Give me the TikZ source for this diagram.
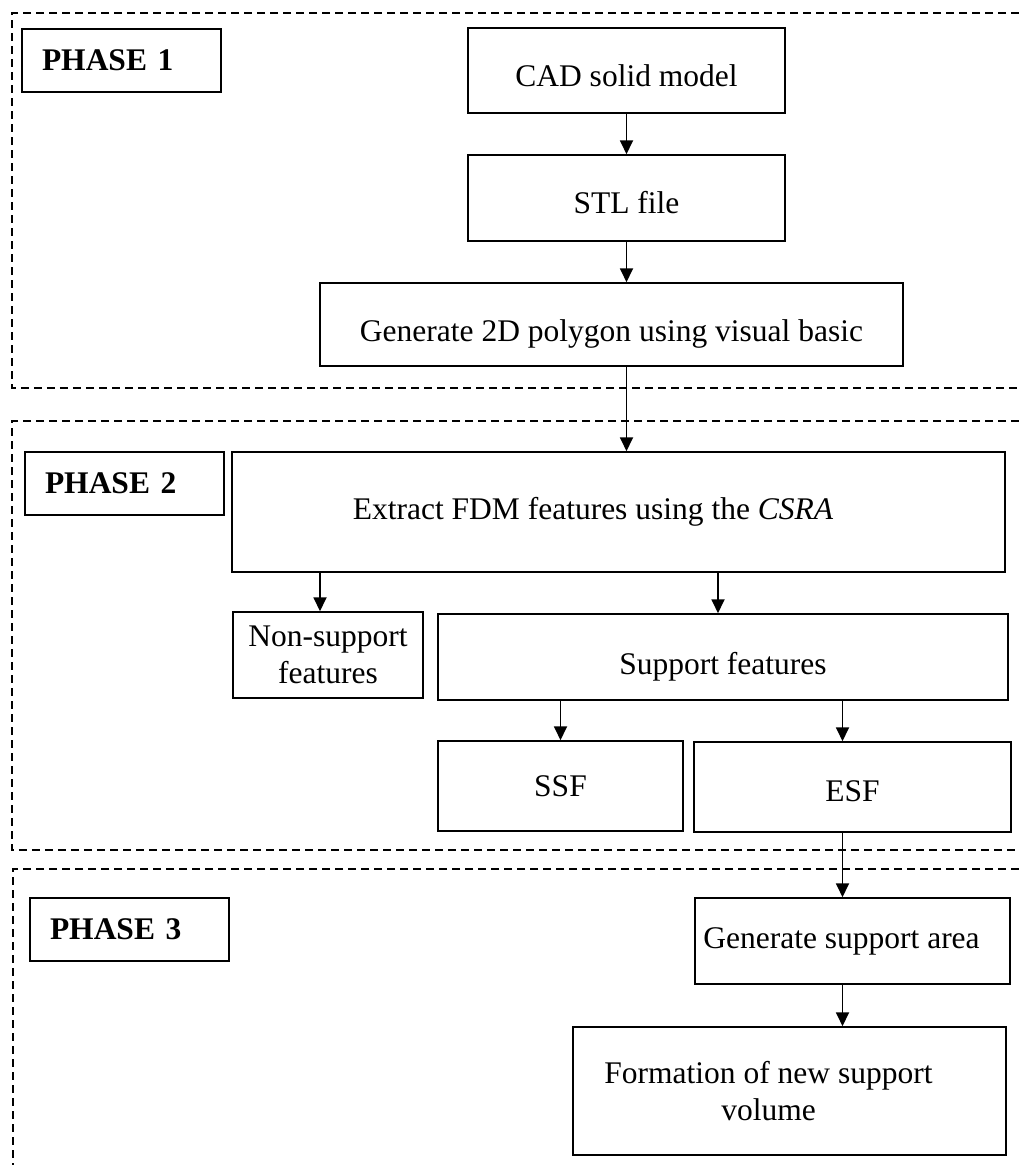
\documentclass[tikz,border=0pt]{standalone}
\usepackage{fontspec}
\setmainfont{Liberation Serif}
\usetikzlibrary{arrows.meta}
\tikzset{
  boite/.style={draw, line width=1.5pt, inner sep=0pt, align=center,
    font=\fontsize{31.5pt}{37pt}\selectfont},
  phase/.style={boite, minimum width=199pt, minimum height=63pt,
    text width=159pt, inner xsep=20pt, align=left,
    font=\fontsize{31.5pt}{37pt}\selectfont\bfseries},
  fleche/.style={line width=1.8pt, -{Triangle[length=14pt,width=13pt]}},
  cadre/.style={dash pattern=on 8pt off 5pt, line width=1.6pt}
}
\newcommand{\bas}[1]{\rule{0pt}{#1}}
\begin{document}
\begin{tikzpicture}[x=1pt, y=-1pt]
    \useasboundingbox (0,0) rectangle (1019,1165);
    %cadres
    \draw[cadre] (1019,13) -- (12,13) -- (12,388) -- (1019,388);
    \draw[cadre] (1019,421) -- (12,421) -- (12,850) -- (1019,850);
    \draw[cadre] (1019,869) -- (13,869) -- (13,1165);
    %phase 1
    \node[phase] (phase1) at (121.5,60.5) {PHASE 1};
    \node[boite, minimum width=317pt, minimum height=85pt] (cad) at (626.5,70.5) {\bas{31.5pt}CAD solid model};
    \node[boite, minimum width=317pt, minimum height=86pt] (stl) at (626.5,198) {\bas{31.5pt}STL file};
    \node[boite, minimum width=583pt, minimum height=83pt] (gen) at (611.5,324.5) {\bas{41.5pt}Generate 2D polygon using visual basic};
    %phase 2
    \node[phase] (phase2) at (124.5,483.5) {PHASE 2};
    \node[boite, minimum width=773pt, minimum height=120pt] (extract) at (618.5,512) {Extract FDM features using the \textit{CSRA}\hspace*{51pt}};
    \node[boite, minimum width=190pt, minimum height=86pt] (nonsup) at (328,655) {Non-support\\features};
    \node[boite, minimum width=570pt, minimum height=86pt] (support) at (723,657) {\bas{41.5pt}Support features};
    \node[boite, minimum width=245pt, minimum height=90pt] (ssf) at (560.5,786) {SSF};
    \node[boite, minimum width=317pt, minimum height=90pt] (esf) at (852.5,787) {\bas{29.5pt}ESF};
    %phase 3
    \node[phase] (phase3) at (129.5,929.5) {PHASE 3};
    \node[boite, minimum width=315pt, minimum height=86pt] (gensup) at (852.5,941) {Generate support area\hspace*{22pt}};
    \node[boite, minimum width=433pt, minimum height=128pt] (formation) at (789.5,1091) {Formation of new support\hspace*{42pt}\\volume\hspace*{42pt}};
    %fleches
    \draw[fleche] (cad) -- (stl);
    \draw[fleche] (stl.south) -- (stl.south |- gen.north);
    \draw[fleche] (gen.south -| stl) -- (extract.north -| stl);
    \draw[fleche] ([xshift=-8pt]nonsup.north |- extract.south) -- ([xshift=-8pt]nonsup.north);
    \draw[fleche] ([xshift=-5pt]support.north |- extract.south) -- ([xshift=-5pt]support.north);
    \draw[fleche] (ssf.north |- support.south) -- (ssf.north);
    \draw[fleche] ([xshift=-10pt]esf.north |- support.south) -- ([xshift=-10pt]esf.north);
    \draw[fleche] ([xshift=-10pt]esf.south) -- ([xshift=-10pt]esf.south |- gensup.north);
    \draw[fleche] ([xshift=-10pt]gensup.south) -- ([xshift=-10pt]gensup.south |- formation.north);
\end{tikzpicture}
\end{document}
